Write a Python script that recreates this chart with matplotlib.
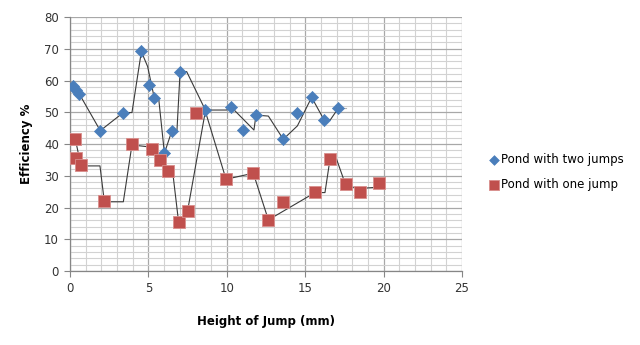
import matplotlib
matplotlib.use("Agg")
import matplotlib.pyplot as plt
from matplotlib.ticker import MultipleLocator

# measured points - pond with two jumps
two_x = [0.21, 0.38, 0.60, 1.93, 3.40, 4.55, 5.06, 5.38, 6.02, 6.50,
         7.02, 8.63, 10.25, 11.01, 11.86, 13.60, 14.50, 15.41, 16.20, 17.10]
two_y = [58.3, 57.0, 55.7, 44.2, 49.9, 69.3, 58.6, 54.4, 37.1, 44.2,
         62.8, 50.7, 51.8, 44.4, 49.1, 41.5, 49.9, 54.9, 47.6, 51.3]

# measured points - pond with one jump
one_x = [0.34, 0.38, 0.70, 2.19, 3.95, 5.23, 5.74, 6.23, 6.93, 7.50,
         8.04, 9.95, 11.69, 12.65, 13.60, 15.63, 16.58, 17.60, 18.50, 19.70]
one_y = [41.5, 35.5, 33.3, 22.0, 39.9, 38.5, 34.9, 31.5, 15.3, 19.0,
         49.9, 28.9, 30.9, 16.1, 21.8, 24.9, 35.2, 27.3, 24.8, 27.8]

# black trend lines
trend_two_x = [0.21, 0.38, 0.60, 1.93, 3.40, 3.95, 4.55, 4.95, 5.38, 5.66,
               6.02, 6.50, 6.82, 7.02, 7.44, 8.63, 9.99, 10.25, 11.73, 11.86,
               12.65, 13.60, 14.50, 15.41, 16.20, 16.60, 17.10]
trend_two_y = [58.3, 57.0, 55.7, 44.2, 49.9, 49.9, 69.1, 64.4, 54.4, 54.1,
               37.1, 44.2, 44.2, 62.8, 62.8, 50.7, 50.7, 51.8, 44.4, 49.1,
               48.8, 41.5, 45.7, 54.7, 47.6, 47.6, 51.2]
tail_two_x = [17.10, 17.60]
tail_two_y = [51.2, 51.2]

trend_one_x = [0.34, 0.70, 1.91, 2.19, 3.40, 3.95, 4.85, 5.23, 5.74, 6.23,
               6.55, 6.93, 7.50, 8.63, 9.95, 11.69, 12.65, 15.63, 16.26, 16.58,
               17.00, 17.60, 18.50, 19.66]
trend_one_y = [41.5, 33.1, 33.1, 21.8, 21.8, 39.7, 39.2, 38.3, 34.7, 31.5,
               31.1, 15.2, 19.0, 50.3, 28.9, 30.8, 16.1, 24.7, 24.7, 35.2,
               35.2, 26.8, 26.0, 26.4]

fig = plt.figure(figsize=(6.4, 3.45), dpi=100)
ax = fig.add_axes([0.1094, 0.2145, 0.6125, 0.7362])

ax.plot(trend_two_x, trend_two_y, color="#3a3a3a", lw=0.8, zorder=2)
ax.plot(tail_two_x, tail_two_y, color="#b0b0b0", lw=0.8, zorder=2)
ax.plot(trend_one_x, trend_one_y, color="#3a3a3a", lw=0.8, zorder=2)

ax.scatter(two_x, two_y, marker="D", s=38, color="#4A7EBB", edgecolors="#4A7EBB",
           lw=0.5, zorder=3, label="Pond with two jumps")
ax.scatter(one_x, one_y, marker="s", s=70, color="#C0504D", edgecolors="#D98E8C",
           lw=0.6, zorder=3, label="Pond with one jump")

ax.set_xlim(0, 25)
ax.set_ylim(0, 80)
ax.xaxis.set_major_locator(MultipleLocator(5))
ax.xaxis.set_minor_locator(MultipleLocator(1))
ax.yaxis.set_major_locator(MultipleLocator(10))
ax.yaxis.set_minor_locator(MultipleLocator(2))
ax.grid(which="major", color="#a8a8a8", lw=0.9, zorder=0)
ax.grid(which="minor", color="#d2d2d2", lw=0.8, zorder=0)
ax.set_axisbelow(True)

for s in ["top", "right"]:
    ax.spines[s].set_visible(False)
for s in ["left", "bottom"]:
    ax.spines[s].set_color("#868686")
    ax.spines[s].set_linewidth(0.9)

ax.tick_params(which="major", length=4, color="#868686", labelsize=8.5,
               labelcolor="#333333", pad=4)
ax.tick_params(which="minor", length=0)

ax.set_xlabel("Height of Jump (mm)", fontsize=8.5, fontweight="bold", labelpad=14)
ax.set_ylabel("Efficiency %", fontsize=8.5, fontweight="bold", labelpad=8)

ax.legend(loc="center left", bbox_to_anchor=(1.055, 0.39), frameon=False,
          fontsize=8.5, handletextpad=0.1, labelspacing=1.05, borderaxespad=0,
          handlelength=1.0, markerscale=0.8)

fig.savefig("out.png", dpi=100)
